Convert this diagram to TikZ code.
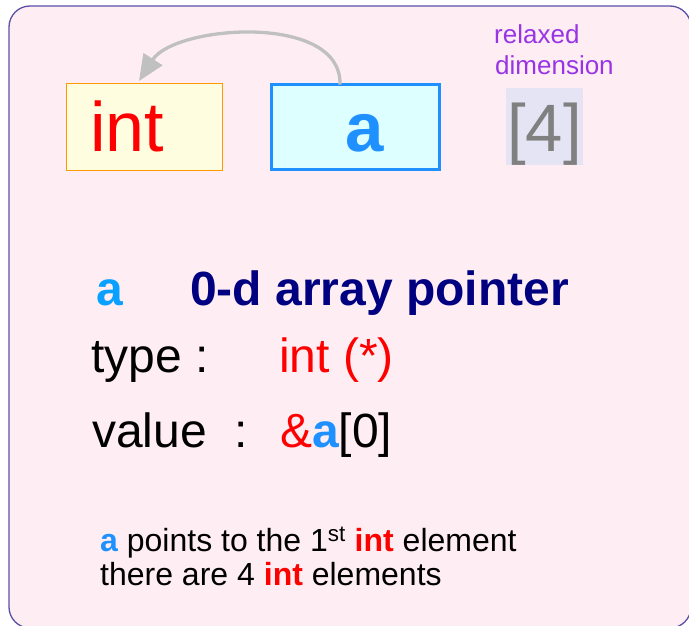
\documentclass[tikz,border=0pt]{standalone}
\usepackage{fontspec}
\setmainfont{Liberation Sans}
\usetikzlibrary{arrows.meta}
\definecolor{bgpink}{HTML}{FEEEF3}
\definecolor{bgborder}{HTML}{5B4FA8}
\definecolor{intfill}{HTML}{FFFDE0}
\definecolor{intborder}{HTML}{FF9900}
\definecolor{afill}{HTML}{DDFFFF}
\definecolor{ablue}{HTML}{1E90FF}
\definecolor{ahead}{HTML}{0AA0FF}
\definecolor{dimfill}{HTML}{E4E4F4}
\definecolor{dimgray}{HTML}{808080}
\definecolor{relaxpurple}{HTML}{9933E6}
\definecolor{navyhead}{HTML}{000080}
\definecolor{arrowgray}{HTML}{C0C0C0}
\definecolor{redtxt}{HTML}{FF0000}
\newcommand\setfs[1]{\fontsize{#1}{#1}\selectfont}
\begin{document}
\begin{tikzpicture}[x=1pt,y=-1pt,
  txt/.style={inner sep=0pt, anchor=base west},
  boxstyle/.style={inner sep=0pt, outer sep=0pt}]
\useasboundingbox (0,0) rectangle (689,626);
\clip (0,0) rectangle (689,626);
\draw[fill=bgpink, draw=bgborder, line width=1.3pt, rounded corners=21pt] (9,6) rectangle (691,628);

% boxes
\node[boxstyle, draw=intborder, fill=intfill, line width=1pt, minimum width=156pt, minimum height=86pt] (intbox) at (144,127) {};
\node[boxstyle, draw=ablue, fill=afill, line width=3pt, minimum width=168pt, minimum height=85pt] (abox) at (355,127) {};
\node[boxstyle, fill=dimfill, minimum width=77pt, minimum height=77pt] (dimbox) at (544.5,126.5) {};

\node[txt, text=redtxt] (inttxt) at (90,152) {\setfs{70}int};
\node[txt, text=ablue] (atxt) at (345,152) {\setfs{69}\bfseries a};
\node[inner sep=0pt, anchor=base, text=dimgray] (dimtxt) at (544.5,151) {\setfs{67}[4]};

\node[txt, text=relaxpurple] (relax1) at (494,44) {\setfs{26}relaxed};
\node[txt, text=relaxpurple] (relax2) at (495,75) {\setfs{26}dimension};

% arrow
\draw[arrowgray, line width=3.3pt, -{Triangle[length=26pt,width=22pt]}]
  ([xshift=-15pt]abox.north) .. controls +(2,-72) and +(36,-56) .. ([xshift=-5pt,yshift=3pt]intbox.north);

% heading
\node[txt, text=ahead] (hA) at (96,305) {\setfs{48}\bfseries a};
\node[txt, text=navyhead] (hT) at (190,305) {\setfs{48}\bfseries 0-d array pointer};

\node[txt] (typeL) at (91,372) {\setfs{48}type :};
\node[txt, text=redtxt] (typeV) at (279,372) {\setfs{48}int (*)};

\node[txt] (valL) at (92,447) {\setfs{48}value};
\node[txt] (valC) at (234,447) {\setfs{48}:};
\node[txt] (valV) at (280,447) {\setfs{48}\textcolor{redtxt}{\&}\textcolor{ablue}{\bfseries a}[0]};

\node[txt] (line1) at (100,551) {\setfs{32}\textcolor{ablue}{\bfseries a} points to the 1\textsuperscript{st} \textcolor{redtxt}{\bfseries int} element};
\node[txt] (line2) at (100,585) {\setfs{32}there are 4 \textcolor{redtxt}{\bfseries int} elements};
\end{tikzpicture}
\end{document}
